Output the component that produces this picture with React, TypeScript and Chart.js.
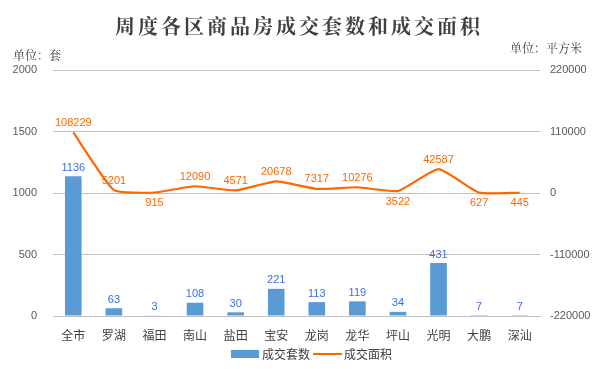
import React, { useEffect, useRef } from "react";
import { Chart, registerables } from "chart.js";

Chart.register(...registerables);

const titleText = "周度各区商品房成交套数和成交面积";
const leftUnit = "单位：套";
const rightUnit = "单位：平方米";
const categories = ["全市", "罗湖", "福田", "南山", "盐田", "宝安", "龙岗", "龙华", "坪山", "光明", "大鹏", "深汕"];
const unitsSold = [1136, 63, 3, 108, 30, 221, 113, 119, 34, 431, 7, 7];
const areaSold = [108229, 5201, 915, 12090, 4571, 20678, 7317, 10276, 3522, 42587, 627, 445];
const seriesNames = ["成交套数", "成交面积"];

const BAR_COLOR = "#5b9bd5";
const LINE_COLOR = "#ff6600";
const BAR_LABEL_COLOR = "#3a6ee8";
const TEXT_COLOR = "#404040";
const TICK_COLOR = "#595959";
const GRID_COLOR = "#c0c0c0";
const CJK = '"Noto Serif CJK SC", "Noto Sans CJK SC", sans-serif';
const CJK_SANS = '"Noto Sans CJK SC", sans-serif';
const NUM_FONT = '"Liberation Sans", Arial, sans-serif';

const decorPlugin = {
  id: "decor",
  afterDraw(chart: any) {
    const ctx = chart.ctx as CanvasRenderingContext2D;
    ctx.save();
    // title
    ctx.fillStyle = TEXT_COLOR;
    ctx.font = `bold 20px ${CJK}`;
    (ctx as any).letterSpacing = "3px";
    ctx.textAlign = "center";
    ctx.textBaseline = "middle";
    ctx.fillText(titleText, 299, 26);
    (ctx as any).letterSpacing = "0px";
    // units
    ctx.font = `12px ${CJK}`;
    ctx.textAlign = "left";
    ctx.fillText(leftUnit, 13, 55);
    ctx.fillText(rightUnit, 510, 48);

    // data labels
    const barMeta = chart.getDatasetMeta(0);
    ctx.font = `11px ${NUM_FONT}`;
    ctx.textAlign = "center";
    ctx.fillStyle = BAR_LABEL_COLOR;
    ctx.textBaseline = "bottom";
    barMeta.data.forEach((el: any, i: number) => {
      ctx.fillText(String(unitsSold[i]), el.x, el.y - 3);
    });
    const lineMeta = chart.getDatasetMeta(1);
    ctx.fillStyle = LINE_COLOR;
    lineMeta.data.forEach((el: any, i: number) => {
      const v = areaSold[i];
      if (v < 4000) {
        ctx.textBaseline = "top";
        ctx.fillText(String(v), el.x, el.y + 5);
      } else {
        ctx.textBaseline = "bottom";
        ctx.fillText(String(v), el.x, el.y - 4);
      }
    });

    // legend
    const ly = 354;
    ctx.fillStyle = BAR_COLOR;
    ctx.fillRect(231, ly - 4, 28, 8);
    ctx.fillStyle = TEXT_COLOR;
    ctx.font = `12px ${CJK_SANS}`;
    ctx.textAlign = "left";
    ctx.textBaseline = "middle";
    ctx.fillText(seriesNames[0], 262, ly);
    ctx.strokeStyle = LINE_COLOR;
    ctx.lineWidth = 2;
    ctx.beginPath();
    ctx.moveTo(313, ly);
    ctx.lineTo(342, ly);
    ctx.stroke();
    ctx.fillText(seriesNames[1], 344, ly);
    ctx.restore();
  },
};

export default function App() {
  const ref = useRef<HTMLCanvasElement>(null);
  useEffect(() => {
    if (!ref.current) return;
    const chart = new Chart(ref.current, {
      type: "bar",
      data: {
        labels: categories,
        datasets: [
          {
            type: "bar",
            label: seriesNames[0],
            data: unitsSold,
            backgroundColor: BAR_COLOR,
            yAxisID: "y",
            barPercentage: 0.41,
            categoryPercentage: 1,
            order: 2,
          },
          {
            type: "line",
            label: seriesNames[1],
            data: areaSold,
            borderColor: LINE_COLOR,
            backgroundColor: LINE_COLOR,
            borderWidth: 2.2,
            pointRadius: 0,
            tension: 0.15,
            yAxisID: "y1",
            order: 1,
          } as any,
        ],
      },
      options: {
        responsive: false,
        animation: false,
        devicePixelRatio: 1,
        layout: { padding: { top: 70, bottom: 0, left: 0, right: 0 } },
        plugins: {
          legend: { display: false },
          tooltip: { enabled: false },
          title: { display: false },
        },
        scales: {
          x: {
            grid: { display: false },
            border: { display: true, color: GRID_COLOR },
            ticks: {
              color: TEXT_COLOR,
              font: { family: CJK_SANS, size: 12 },
              padding: 4,
              maxRotation: 0,
              autoSkip: false,
            },
            afterFit: (s: any) => {
              s.height = 53;
            },
          },
          y: {
            position: "left",
            min: 0,
            max: 2000,
            ticks: {
              stepSize: 500,
              color: TICK_COLOR,
              font: { family: NUM_FONT, size: 11 },
              padding: 16,
              callback: (v: any) => String(v),
            },
            grid: { color: GRID_COLOR, drawTicks: false },
            border: { display: false },
            afterFit: (s: any) => {
              s.width = 53;
            },
          },
          y1: {
            position: "right",
            min: -220000,
            max: 220000,
            ticks: {
              stepSize: 110000,
              color: TICK_COLOR,
              font: { family: NUM_FONT, size: 11 },
              padding: 10,
              callback: (v: any) => String(v),
            },
            grid: { display: false, drawTicks: false },
            border: { display: false },
            afterFit: (s: any) => {
              s.width = 63;
            },
          },
        },
      } as any,
      plugins: [decorPlugin],
    });
    return () => chart.destroy();
  }, []);
  return (
    <div style={{ position: "fixed", left: 0, top: 0, width: 603, height: 369, background: "#fff" }}>
      <canvas ref={ref} width={603} height={369} style={{ width: 603, height: 369 }} />
    </div>
  );
}
